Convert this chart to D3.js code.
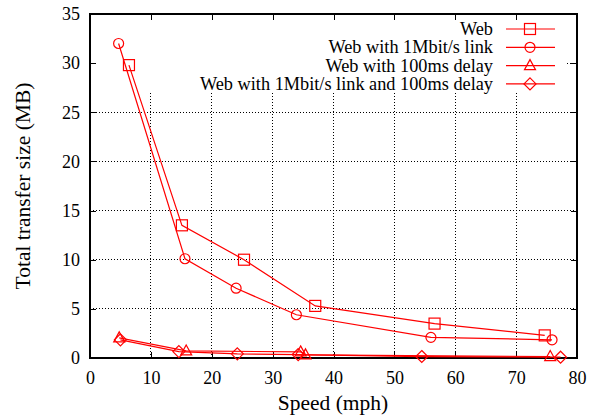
<!DOCTYPE html>
<html><head><meta charset="utf-8">
<script src="https://cdn.jsdelivr.net/npm/d3@7"></script>
<style>body{margin:0;background:#fff}svg{display:block}text{font-family:"Liberation Serif","DejaVu Serif","Times New Roman",serif;fill:#000}</style>
</head><body><svg id="c" width="597" height="415"></svg>
<script>
const seriesNames = ["Web","Web with 1Mbit/s link","Web with 100ms delay","Web with 1Mbit/s link and 100ms delay"];
const webX = [6.4,15.1,25.3,37.0,56.6,74.7];
const webY = [29.8,13.5,10.0,5.3,3.5,2.3];
const linkX = [4.7,15.6,24.0,33.9,56.0,75.9];
const linkY = [32.0,10.1,7.1,4.4,2.1,1.85];
const delayX = [4.8,15.8,34.6,35.4,75.6];
const delayY = [2.05,0.72,0.62,0.32,0.15];
const bothX = [5.0,14.6,24.2,34.2,54.5,77.3];
const bothY = [1.85,0.65,0.42,0.35,0.15,0.08];
const xTicks = [0,10,20,30,40,50,60,70,80];
const yTicks = [0,5,10,15,20,25,30,35];
const symbols = ["square","circle","triangle","diamond"];

const FONT='"Liberation Serif","DejaVu Serif",serif';
const svg = d3.select("#c");
const L=90,R=577,T=14,B=358;
const x = d3.scaleLinear().domain([0,80]).range([L,R]);
const y = d3.scaleLinear().domain([0,35]).range([B,T]);
const red="#ff0000";

// grid
const g = svg.append("g");
g.selectAll(".gx").data(xTicks.slice(1,-1)).join("line")
 .attr("x1",d=>x(d)).attr("x2",d=>x(d)).attr("y1",B).attr("y2",T)
 .attr("stroke","#000").attr("stroke-width",1).attr("stroke-dasharray","1,2").attr("shape-rendering","crispEdges");
g.selectAll(".gy").data(yTicks.slice(1,-1)).join("line")
 .attr("x1",L).attr("x2",R).attr("y1",d=>y(d)).attr("y2",d=>y(d))
 .attr("stroke","#000").attr("stroke-width",1).attr("stroke-dasharray","1,2").attr("shape-rendering","crispEdges");
// opaque key box
svg.append("rect").attr("x",L+1).attr("y",T+1).attr("width",567-L-1).attr("height",93-T-1).attr("fill","#fff");

// axes (ticks inward, mirrored)
const tl=6;
const ax = svg.append("g").attr("transform",`translate(0,${B})`).call(d3.axisBottom(x).tickValues(xTicks).tickSize(-tl).tickPadding(13));
const axt = svg.append("g").attr("transform",`translate(0,${T})`).call(d3.axisTop(x).tickValues(xTicks).tickSize(-tl).tickFormat(""));
const ay = svg.append("g").attr("transform",`translate(${L},0)`).call(d3.axisLeft(y).tickValues(yTicks).tickSize(-tl).tickPadding(10));
const ayr = svg.append("g").attr("transform",`translate(${R},0)`).call(d3.axisRight(y).tickValues(yTicks).tickSize(-tl).tickFormat(""));
[ax,axt,ay,ayr].forEach(a=>{a.attr("font-family",FONT).attr("font-size",18);a.select(".domain").remove();a.selectAll("line").attr("stroke","#000").attr("shape-rendering","crispEdges");a.selectAll("text").attr("fill","#000");});
svg.append("rect").attr("x",L).attr("y",T).attr("width",R-L).attr("height",B-T).attr("fill","none").attr("stroke","#000").attr("stroke-width",1.3).attr("shape-rendering","crispEdges");

function marker(sel,type,cx,cy){
  if(type==="square") sel.append("rect").attr("x",cx-5.5).attr("y",cy-5.5).attr("width",11).attr("height",11);
  else if(type==="circle") sel.append("circle").attr("cx",cx).attr("cy",cy).attr("r",5);
  else if(type==="triangle") sel.append("path").attr("d",`M${cx},${cy-6}L${cx+5.5},${cy+4}L${cx-5.5},${cy+4}Z`);
  else sel.append("path").attr("d",`M${cx},${cy-6}L${cx+6},${cy}L${cx},${cy+6}L${cx-6},${cy}Z`);
}
const data=[[webX,webY],[linkX,linkY],[delayX,delayY],[bothX,bothY]];
const line=d3.line().x(d=>x(d[0])).y(d=>y(d[1]));
data.forEach(([xs,ys],i)=>{
  const pts=xs.map((v,j)=>[v,ys[j]]);
  const s=svg.append("g").attr("stroke",red).attr("fill","none").attr("stroke-width",1.2);
  s.append("path").attr("d",line(pts));
  pts.forEach(p=>marker(s,symbols[i],x(p[0]),y(p[1])));
});

// legend
const ly0=29, ldy=18.3;
seriesNames.forEach((n,i)=>{
  const yy=ly0+i*ldy;
  svg.append("text").attr("x",493).attr("y",yy+6).attr("text-anchor","end").attr("font-family",FONT).attr("font-size",18.3).text(n);
  const s=svg.append("g").attr("stroke",red).attr("fill","none").attr("stroke-width",1.2);
  s.append("line").attr("x1",506).attr("x2",555).attr("y1",yy).attr("y2",yy);
  marker(s,symbols[i],530,yy);
});

svg.append("text").attr("x",333).attr("y",410).attr("text-anchor","middle").attr("font-family",FONT).attr("font-size",21.5).text("Speed (mph)");
svg.append("text").attr("transform",`translate(30,${(T+B)/2}) rotate(-90)`).attr("text-anchor","middle").attr("font-family",FONT).attr("font-size",21.5).text("Total transfer size (MB)");
</script></body></html>
